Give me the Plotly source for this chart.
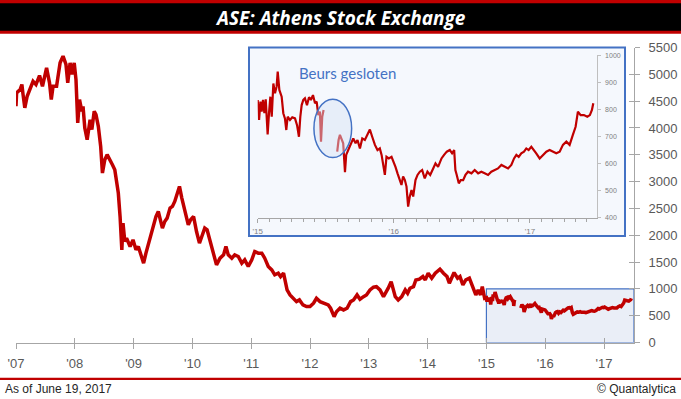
import plotly.graph_objects as go

W, H = 681, 399

# ---------------- data ----------------
main_years = [
    2007.00, 2007.01, 2007.07, 2007.10, 2007.12, 2007.15, 2007.19, 2007.24, 2007.29, 2007.34,
    2007.40, 2007.45, 2007.52, 2007.57, 2007.60, 2007.63, 2007.69, 2007.75, 2007.80, 2007.85,
    2007.88, 2007.92, 2007.95, 2007.99, 2008.02, 2008.05, 2008.08, 2008.12, 2008.14, 2008.17,
    2008.21, 2008.26, 2008.29, 2008.33, 2008.36, 2008.40, 2008.44, 2008.47, 2008.51, 2008.55,
    2008.60, 2008.64, 2008.68, 2008.71, 2008.74, 2008.77, 2008.80, 2008.82, 2008.85, 2008.88,
    2008.94, 2008.99, 2009.04, 2009.08, 2009.12, 2009.17, 2009.21, 2009.27, 2009.32, 2009.38,
    2009.42, 2009.45, 2009.49, 2009.53, 2009.57, 2009.62, 2009.66, 2009.70, 2009.74, 2009.78,
    2009.82, 2009.87, 2009.93, 2009.97, 2010.02, 2010.07, 2010.12, 2010.16, 2010.21, 2010.25,
    2010.30, 2010.35, 2010.41, 2010.47, 2010.53, 2010.57, 2010.61, 2010.67, 2010.72, 2010.78,
    2010.84, 2010.89, 2010.95, 2011.01, 2011.06, 2011.12, 2011.18, 2011.23, 2011.29, 2011.35,
    2011.40, 2011.46, 2011.50, 2011.55, 2011.57, 2011.61, 2011.66, 2011.72, 2011.77, 2011.82,
    2011.88, 2011.94, 2012.00, 2012.06, 2012.11, 2012.17, 2012.26, 2012.31, 2012.35, 2012.41,
    2012.45, 2012.51, 2012.57, 2012.63, 2012.69, 2012.74, 2012.80, 2012.85, 2012.91, 2012.96,
    2013.02, 2013.08, 2013.13, 2013.19, 2013.25, 2013.30, 2013.33, 2013.38, 2013.41, 2013.45,
    2013.50, 2013.56, 2013.62, 2013.66, 2013.70, 2013.76, 2013.80, 2013.86, 2013.92, 2013.96,
    2014.01, 2014.07, 2014.13, 2014.21, 2014.27, 2014.33, 2014.37, 2014.41, 2014.45, 2014.51,
    2014.55, 2014.60, 2014.65, 2014.71, 2014.77, 2014.82, 2014.86, 2014.90, 2014.93, 2014.97,
]
main_values = [
    4404, 4654, 4716, 4809, 4622, 4374, 4591, 4716, 4871, 4809,
    4977, 4777, 5121, 4841, 4529, 4777, 4777, 5214, 5338, 5183,
    4841, 5214, 4996, 5214, 4903, 4094, 4529, 4311, 4404, 4000,
    3782, 4155, 3969, 4311, 4249, 4030, 3657, 3160, 3408, 3502,
    3408, 3315, 3222, 2973, 2786, 2349, 1728, 2226, 1883, 1946,
    1789, 1914, 1728, 1789, 1634, 1479, 1666, 1914, 2069, 2349,
    2443, 2288, 2133, 2257, 2319, 2506, 2537, 2630, 2755, 2910,
    2693, 2443, 2194, 2288, 2349, 2069, 1853, 1976, 2133, 2101,
    1883, 1696, 1447, 1572, 1634, 1789, 1634, 1572, 1634, 1603,
    1479, 1541, 1416, 1541, 1696, 1666, 1666, 1572, 1416, 1354,
    1261, 1292, 1229, 1292, 1167, 980, 887, 825, 762, 794,
    700, 669, 669, 732, 825, 762, 732, 700, 639, 482,
    575, 639, 607, 639, 762, 794, 887, 807, 855, 887,
    980, 1031, 1042, 980, 855, 949, 1012, 1135, 1012, 855,
    794, 855, 980, 918, 1012, 1042, 1167, 1180, 1229, 1167,
    1292, 1198, 1292, 1367, 1292, 1229, 1106, 1229, 1304, 1198,
    1229, 1074, 1167, 1198, 1042, 887, 980, 887, 1042, 825,
]

recent_years = [
    2015.000, 2015.010, 2015.020, 2015.029, 2015.039, 2015.049, 2015.059, 2015.073, 2015.083, 2015.093,
    2015.103, 2015.115, 2015.127, 2015.139, 2015.147, 2015.159, 2015.176, 2015.188, 2015.200, 2015.210,
    2015.220, 2015.237, 2015.254, 2015.274, 2015.289, 2015.303, 2015.313, 2015.323, 2015.335, 2015.347,
    2015.362, 2015.377, 2015.391, 2015.406, 2015.421, 2015.433, 2015.445, 2015.457, 2015.465, 2015.474,
    2015.484, 2015.530, 2015.584, 2015.594, 2015.604, 2015.616, 2015.628, 2015.641, 2015.650, 2015.665,
    2015.685, 2015.702, 2015.719, 2015.733, 2015.751, 2015.768, 2015.787, 2015.807, 2015.824, 2015.841,
    2015.861, 2015.880, 2015.897, 2015.910, 2015.922, 2015.934, 2015.946, 2015.963, 2015.983, 2015.998,
    2016.012, 2016.027, 2016.044, 2016.056, 2016.068, 2016.081, 2016.093, 2016.105, 2016.117, 2016.130,
    2016.142, 2016.159, 2016.174, 2016.191, 2016.208, 2016.227, 2016.247, 2016.267, 2016.289, 2016.306,
    2016.325, 2016.350, 2016.369, 2016.389, 2016.411, 2016.428, 2016.443, 2016.452, 2016.462, 2016.477,
    2016.491, 2016.509, 2016.526, 2016.545, 2016.570, 2016.594, 2016.619, 2016.643, 2016.667, 2016.692,
    2016.716, 2016.741, 2016.765, 2016.790, 2016.814, 2016.839, 2016.863, 2016.883, 2016.900, 2016.917,
    2016.936, 2016.956, 2016.973, 2016.990, 2017.010, 2017.029, 2017.046, 2017.071, 2017.095, 2017.120,
    2017.144, 2017.169, 2017.193, 2017.218, 2017.242, 2017.267, 2017.291, 2017.315, 2017.335, 2017.352,
    2017.372, 2017.396, 2017.421, 2017.440, 2017.455, 2017.465,
]
recent_values = [
    835, 761, 829, 792, 835, 786, 837, 708, 786, 847,
    773, 896, 860, 884, 940, 872, 847, 786, 767, 724,
    773, 761, 771, 767, 742, 699, 773, 816, 835, 841,
    816, 845, 835, 853, 823, 829, 779, 792, 681, 773,
    798, None, 644, 687, 706, 687, 675, 568, 632, 650,
    675, 693, 675, 687, 656, 693, 687, 712, 726, 699,
    669, 650, 656, 632, 601, 558, 625, 619, 625, 607,
    588, 564, 533, 521, 552, 539, 515, 441, 478, 502,
    478, 539, 558, 570, 576, 545, 570, 558, 582, 601,
    588, 619, 632, 644, 650, 638, 650, 576, 558, 527,
    539, 539, 558, 570, 564, 576, 564, 570, 564, 558,
    570, 576, 582, 595, 588, 582, 595, 619, 632, 625,
    638, 644, 656, 650, 662, 650, 638, 619, 632, 644,
    650, 644, 638, 644, 669, 681, 669, 706, 736, 792,
    779, 779, 773, 779, 798, 823,
]

year_ticks = list(range(2007, 2018))
year_labels = ["'07", "'08", "'09", "'10", "'11", "'12", "'13", "'14", "'15", "'16", "'17"]
main_yticks = list(range(0, 5501, 500))
inset_xticks = [2015, 2016, 2017]
inset_xlabels = ["'15", "'16", "'17"]
inset_yticks = list(range(400, 1001, 100))

TITLE = "ASE: Athens Stock Exchange"
NOTE = "Beurs gesloten"
FOOT_LEFT = "As of June 19, 2017"
FOOT_RIGHT = "© Quantalytica"

# ---------------- styling ----------------
RED = "#C00000"
BLUE = "#4472C4"
AXIS = "#A6A6A6"
LABEL = "#595959"
FONT = "Liberation Sans"


def fx(p):
    return p / W


def fy(p):
    return (H - p) / H


fig = go.Figure()

all_years = main_years + recent_years
all_values = main_values + recent_values

fig.add_trace(go.Scatter(x=all_years, y=all_values, mode="lines",
                         line=dict(color=RED, width=3.5), connectgaps=False,
                         hoverinfo="skip", xaxis="x", yaxis="y"))
# dummy trace for the tick-crossing overlay axes
fig.add_trace(go.Scatter(x=[None], y=[None], mode="lines", hoverinfo="skip",
                         xaxis="x2", yaxis="y2", showlegend=False))
fig.add_trace(go.Scatter(x=recent_years, y=recent_values, mode="lines",
                         line=dict(color=RED, width=2.2), connectgaps=False,
                         hoverinfo="skip", xaxis="x3", yaxis="y3"))

main_xdom = [fx(16), fx(634)]
main_ydom = [fy(342.5), fy(47.5)]
xr = [2007, 2017.51]
yr = [0, 5500]

inset_xdom = [fx(257.7), fx(596.7)]
inset_ydom = [fy(217.7), fy(55.3)]

tickfont = dict(family=FONT, size=13, color=LABEL)

fig.update_layout(
    template="none",
    width=W, height=H,
    autosize=False,
    margin=dict(l=0, r=0, t=0, b=0, pad=0),
    paper_bgcolor="white",
    plot_bgcolor="rgba(0,0,0,0)",
    font=dict(family=FONT, size=12, color=LABEL),
    showlegend=False,
    xaxis=dict(domain=main_xdom, range=xr, anchor="y", tickmode="array",
               tickvals=year_ticks, ticktext=year_labels, showgrid=False, zeroline=False,
               showline=True, linecolor=AXIS, linewidth=1, ticks="outside", ticklen=5,
               tickcolor=AXIS, tickfont=tickfont, ticklabelstandoff=4, fixedrange=True,
               automargin=False),
    xaxis2=dict(domain=main_xdom, range=xr, anchor="y2", overlaying="x", tickmode="array",
                tickvals=year_ticks, showticklabels=False, showgrid=False, zeroline=False,
                showline=False, ticks="inside", ticklen=5, tickcolor=AXIS, automargin=False),
    yaxis=dict(domain=main_ydom, range=yr, anchor="x", side="right", tickmode="array",
               tickvals=main_yticks, showgrid=False, zeroline=False, showline=True,
               linecolor=AXIS, linewidth=1, ticks="outside", ticklen=5, tickcolor=AXIS,
               tickfont=tickfont, ticklabelstandoff=6, fixedrange=True, automargin=False),
    yaxis2=dict(domain=main_ydom, range=yr, anchor="x2", overlaying="y", side="right",
                tickmode="array", tickvals=main_yticks, showticklabels=False,
                showgrid=False, zeroline=False, showline=False, ticks="inside",
                ticklen=5, tickcolor=AXIS, automargin=False),
    xaxis3=dict(domain=inset_xdom, range=[2015, 2017.49], anchor="y3", tickmode="array",
                tickvals=inset_xticks, ticktext=inset_xlabels, showgrid=False, zeroline=False,
                showline=True, linecolor=AXIS, linewidth=1, ticks="outside", ticklen=4,
                tickcolor=AXIS, tickfont=dict(family=FONT, size=8, color="#7F7F7F"),
                ticklabelstandoff=2, automargin=False,
                minor=dict(tickmode="linear", tick0=2015, dtick=1 / 12, ticks="outside",
                           ticklen=3, tickcolor=AXIS, showgrid=False)),
    yaxis3=dict(domain=inset_ydom, range=[400, 1000], anchor="x3", side="right",
                tickmode="array", tickvals=inset_yticks, showgrid=False, zeroline=False,
                showline=True, linecolor="#BFBFBF", linewidth=1, ticks="outside",
                ticklen=3, tickcolor="#BFBFBF", automargin=False,
                tickfont=dict(family=FONT, size=7, color="#7F7F7F"), ticklabelstandoff=3),
)

shapes = [
    # title bar
    dict(type="rect", xref="paper", yref="paper", x0=0, x1=1, y0=fy(33.7), y1=1,
         fillcolor=RED, line=dict(width=0), layer="below"),
    dict(type="rect", xref="paper", yref="paper", x0=0, x1=1, y0=fy(30.7), y1=fy(3.3),
         fillcolor="black", line=dict(width=0), layer="below"),
    # footer rule
    dict(type="rect", xref="paper", yref="paper", x0=0, x1=1, y0=fy(380), y1=fy(377.7),
         fillcolor=RED, line=dict(width=0), layer="below"),
    # highlighted zoom range in the main chart
    dict(type="rect", xref="x", yref="y", x0=2015, x1=xr[1], y0=0, y1=1000,
         fillcolor="#EAEEF7", line=dict(color=BLUE, width=1.2), layer="below"),
    # inset panel
    dict(type="rect", xref="paper", yref="paper", x0=fx(249), x1=fx(625),
         y0=fy(236), y1=fy(47.5), fillcolor="#F5F8FD",
         line=dict(color=BLUE, width=2), layer="below"),
    # ellipse marking the closed exchange
    dict(type="circle", xref="x3", yref="y3", x0=2015.413, x1=2015.690, y0=622, y1=838,
         fillcolor="rgba(214,226,244,0.45)", line=dict(color=BLUE, width=1.5), layer="above"),
]
fig.update_layout(shapes=shapes)

annotations = [
    dict(text=TITLE, xref="paper", yref="paper", x=0.5, y=fy(17.5), xanchor="center",
         yanchor="middle", showarrow=False,
         font=dict(family="Open Sans", size=19, color="white", weight="bold", style="italic")),
    dict(text=NOTE, xref="paper", yref="paper", x=fx(296.5), y=fy(73.3), xanchor="left",
         yanchor="middle", showarrow=False, font=dict(family="Lato", size=15, color=BLUE)),
    dict(text=FOOT_LEFT, xref="paper", yref="paper", x=fx(3), y=fy(389), xanchor="left",
         yanchor="middle", showarrow=False, font=dict(family=FONT, size=12, color="#262626")),
    dict(text=FOOT_RIGHT, xref="paper", yref="paper", x=fx(678), y=fy(389), xanchor="right",
         yanchor="middle", showarrow=False, font=dict(family=FONT, size=12, color="#262626")),
]
fig.update_layout(annotations=annotations)

fig.write_html(
    "out.html",
    config={"displayModeBar": False},
    post_script="document.body.style.margin='0';document.body.style.padding='0';"
                "document.body.style.overflow='hidden';",
)
